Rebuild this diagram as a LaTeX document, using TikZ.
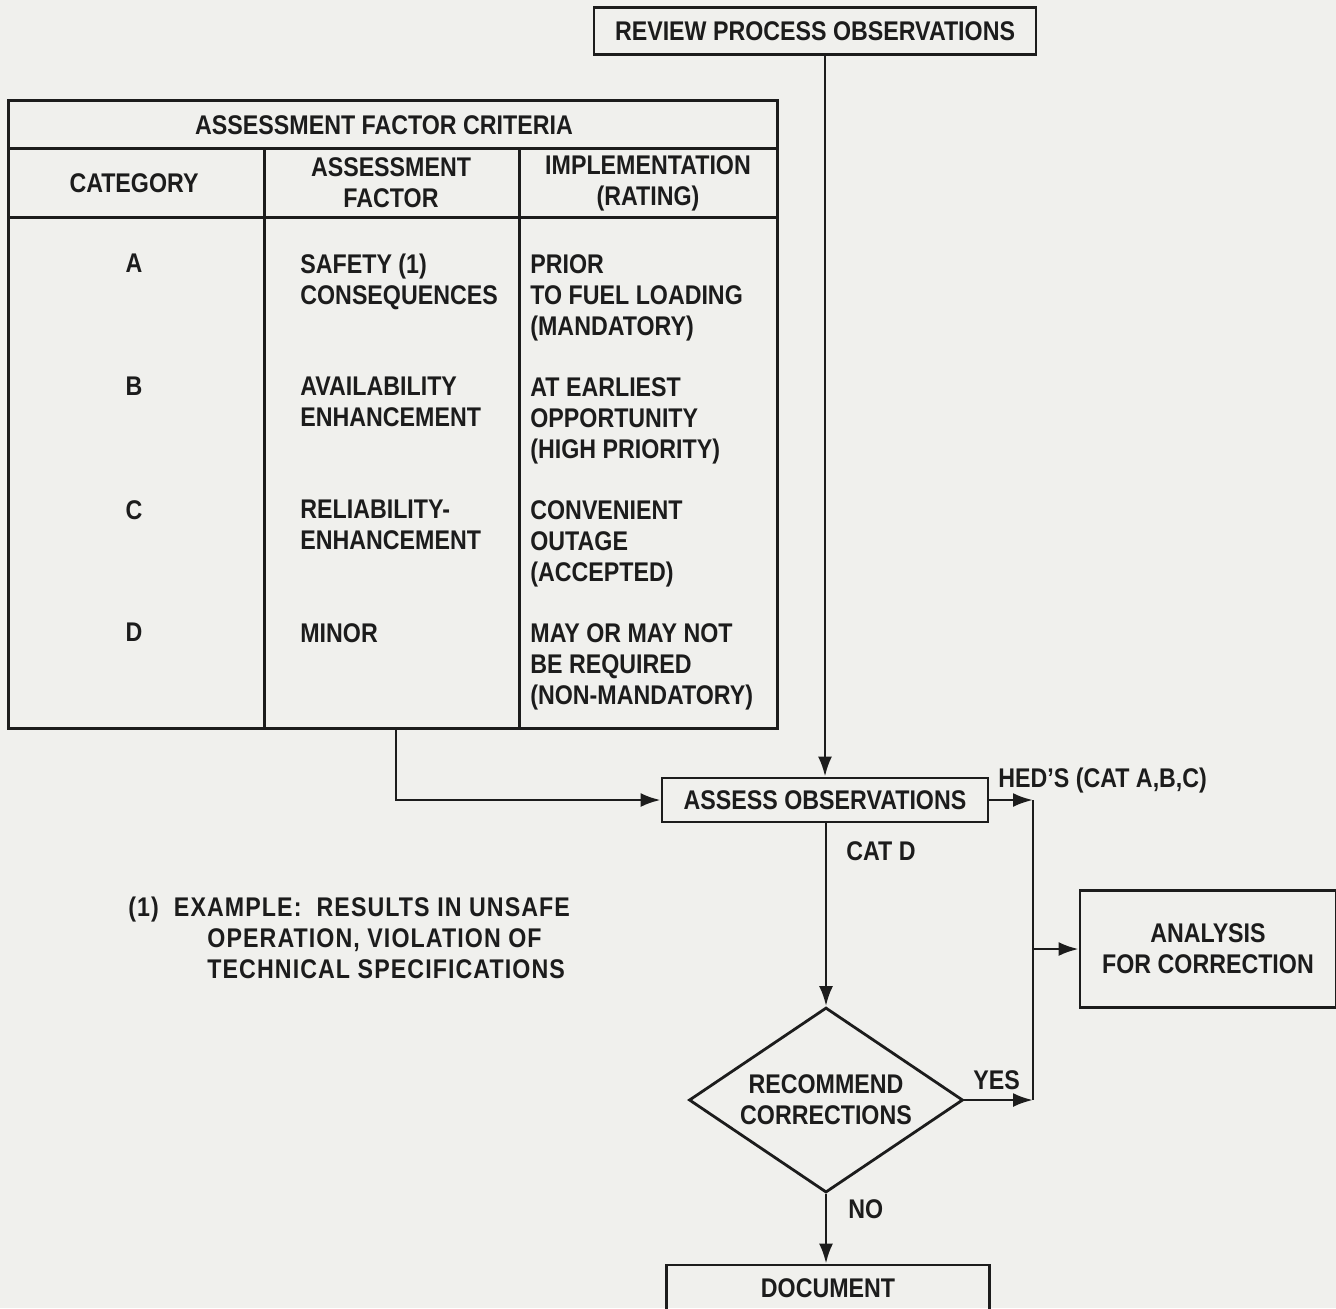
\documentclass[tikz,border=0pt]{standalone}
\usepackage{fontspec}
\setmainfont{Liberation Sans}[FakeStretch=0.86]
\usetikzlibrary{arrows.meta}
\usetikzlibrary{positioning}
\usetikzlibrary{shapes.geometric}
\definecolor{paper}{RGB}{240,240,237}
\definecolor{ink}{RGB}{28,28,28}
\newcommand\flowfont{\bfseries\fontsize{13.5}{15.5}\selectfont}
\tikzset{flow picture/.style = {x = 0.5pt, y = -0.5pt, color = ink}}
\tikzset{flow box/.style = {draw, line width = 1.4pt, inner sep = 0pt, align = center, font = \flowfont}}
\tikzset{decision/.style = {flow box, diamond, aspect = 1.48, minimum width = 137pt, minimum height = 92.5pt}}
\tikzset{cell/.style = {inner sep = 0pt, align = left, anchor = north west, font = \flowfont}}
\tikzset{head/.style = {inner sep = 0pt, align = center, font = \flowfont}}
\tikzset{tag/.style = {inner sep = 0pt, anchor = base west, font = \flowfont}}
\tikzset{flow/.style = {line width = 1.4pt}}
\tikzset{flow arrow/.style = {flow, -{Latex[length = 10pt, width = 7pt]}}}
\tikzset{table line/.style = {line width = 1.5pt}}

\begin{document}
\begin{tikzpicture}[flow picture]
    \fill [paper] (0, 0) rectangle (1336, 1308);
    \useasboundingbox (0, 0) rectangle (1336, 1308);
    \clip (0, 0) rectangle (1336, 1308);

    % criteria table
    \coordinate (tab nw) at (8, 100);
    \coordinate (tab se) at (777, 728);
    \draw [table line] (tab nw) rectangle (tab se);
    \draw [table line] (8, 148) -- (777, 148) (8, 217) -- (777, 217);
    \draw [table line] (264, 148) -- (264, 728) (519, 148) -- (519, 728);
    \node [head] (title) at (384, 125) {ASSESSMENT FACTOR CRITERIA};
    \node [head] (head cat) at (134, 183) {CATEGORY};
    \node [head] (head fac) at (391, 183) {ASSESSMENT\\FACTOR};
    \node [head] (head impl) at (648, 183) {IMPLEMENTATION\\(RATING)};
    \foreach \cat/\fac/\impl [count = \i] in {
        A/{SAFETY (1)\\CONSEQUENCES}/{PRIOR\\TO FUEL LOADING\\(MANDATORY)},
        B/{AVAILABILITY\\ENHANCEMENT}/{AT EARLIEST\\OPPORTUNITY\\(HIGH PRIORITY)},
        C/{RELIABILITY-\\ENHANCEMENT}/{CONVENIENT\\OUTAGE\\(ACCEPTED)},
        D/{MINOR}/{MAY OR MAY NOT\\BE REQUIRED\\(NON-MANDATORY)}}
    {
        \node [cell, anchor = north] (cat-\i) at (134, 131 + 123 * \i) {\cat};
        \node [cell] (fac-\i) at (300, 131 + 123 * \i) {\fac};
        \node [cell] (impl-\i) at (530, 131 + 123 * \i) {\impl};
    }
    \coordinate (tab out) at (396, 728);

    % footnote
    \node [cell, font = \flowfont\addfontfeature{LetterSpace = 4}] (note) at (128, 897)
        {(1)\ \ EXAMPLE:\ \ RESULTS IN UNSAFE\\
         \hspace*{39.5pt}OPERATION, VIOLATION OF\\
         \hspace*{39.5pt}TECHNICAL SPECIFICATIONS};

    % flow
    \node [flow box, minimum width = 221pt, minimum height = 23.5pt] (review) at (815, 31)
        {REVIEW PROCESS OBSERVATIONS};
    \node [flow box, minimum width = 163pt, minimum height = 22pt] (assess) at (825, 800)
        {ASSESS OBSERVATIONS};
    \node [decision] (recommend) at (826, 1100) {RECOMMEND\\CORRECTIONS};
    \node [flow box, minimum width = 128pt, minimum height = 58.5pt] (analysis) at (1208, 949)
        {ANALYSIS\\FOR CORRECTION};
    \node [flow box, minimum width = 161.5pt, minimum height = 23pt] (document) at (828, 1288)
        {DOCUMENT};
    \coordinate (join top) at (1033, 800);
    \coordinate (join bot) at (1033, 1100);

    \draw [flow arrow] (review.south -| assess.north) -- (assess.north);
    \draw [flow arrow] (tab out) |- (assess.west);
    \draw [flow arrow] (assess.east) -- (join top);
    \draw [flow] (join top) -- (join bot);
    \draw [flow arrow] (recommend.east) -- (join bot);
    \draw [flow arrow] (join top |- analysis.west) -- (analysis.west);
    \draw [flow arrow] (assess.south -| recommend.north) -- (recommend.north);
    \draw [flow arrow] (recommend.south) -- (recommend.south |- document.north);

    \node [tag] (hed) at (998, 787) {HED'S (CAT A,B,C)};
    \node [tag] (catd) at (846, 860) {CAT D};
    \node [tag] (yes) at (973, 1089) {YES};
    \node [tag] (no) at (848, 1218) {NO};
\end{tikzpicture}
\end{document}
